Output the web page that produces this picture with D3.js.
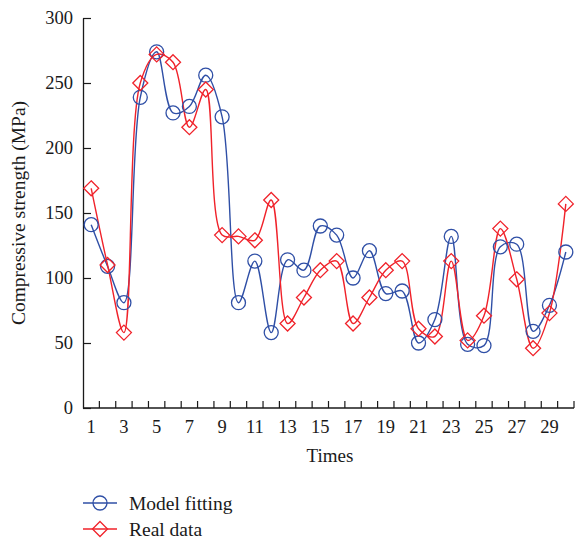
<!DOCTYPE html>
<html>
<head>
<meta charset="utf-8">
<script src="https://cdn.jsdelivr.net/npm/d3@7/dist/d3.min.js"></script>
<style>
  body { margin: 0; background: #fff; }
  svg { display: block; }
  text { font-family: "Liberation Serif", "DejaVu Serif", serif; fill: #1a1a1a; }
</style>
</head>
<body>
<div id="chart"></div>
<script>
// data
var times = d3.range(1, 31);
var tickLabels = [1, 3, 5, 7, 9, 11, 13, 15, 17, 19, 21, 23, 25, 27, 29];
var yTicks = [0, 50, 100, 150, 200, 250, 300];
var modelFitting = [141, 109, 81, 239, 274, 227, 232, 256, 224, 81,
                    113, 58, 114, 106, 140, 133, 100, 121, 88, 90,
                    50, 68, 132, 49, 48, 124, 126, 59, 79, 120];
var realData = [169, 110, 58, 250, 272, 266, 216, 245, 133, 132,
                129, 160, 65, 85, 106, 113, 65, 85, 106, 113,
                61, 55, 113, 52, 71, 138, 99, 46, 73, 157];

var W = 576, H = 542;
var plotLeft = 83, plotRight = 574, plotTop = 18, plotBottom = 408;
var blue = "#2f4fa6", red = "#f0222a";
var fs = 18.5;

var svg = d3.select("#chart").append("svg")
    .attr("width", W)
    .attr("height", H);

var x = d3.scaleBand().domain(times).range([plotLeft, plotRight]);
var y = d3.scaleLinear().domain([0, 300]).range([plotBottom, plotTop]);
var cx = function (i) { return x(times[i]) + x.bandwidth() / 2; };

// x axis: ticks at band edges, labels at band centres
svg.append("line")
    .attr("x1", plotLeft).attr("x2", plotRight)
    .attr("y1", plotBottom).attr("y2", plotBottom)
    .attr("stroke", "#1a1a1a").attr("stroke-width", 1.3);

svg.selectAll(".xtick")
    .data(times)
    .enter().append("line")
    .attr("class", "xtick")
    .attr("x1", function (d) { return x(d) + x.bandwidth(); })
    .attr("x2", function (d) { return x(d) + x.bandwidth(); })
    .attr("y1", plotBottom).attr("y2", plotBottom - 7)
    .attr("stroke", "#1a1a1a").attr("stroke-width", 1.2);

svg.selectAll(".xlab")
    .data(tickLabels)
    .enter().append("text")
    .attr("class", "xlab")
    .attr("x", function (d) { return x(d) + x.bandwidth() / 2; })
    .attr("y", 433)
    .attr("text-anchor", "middle")
    .attr("font-size", fs)
    .text(function (d) { return d; });

// y axis
var yAxis = svg.append("g")
    .attr("transform", "translate(" + plotLeft + ",0)")
    .call(d3.axisLeft(y).tickValues(yTicks).tickSizeInner(-8).tickSizeOuter(0).tickPadding(10));
yAxis.select(".domain").attr("stroke", "#1a1a1a").attr("stroke-width", 1.3);
yAxis.selectAll(".tick line").attr("stroke", "#1a1a1a").attr("stroke-width", 1.2);
yAxis.selectAll(".tick text")
    .attr("font-size", fs)
    .attr("font-family", "Liberation Serif, serif")
    .attr("fill", "#1a1a1a");

// axis titles
svg.append("text")
    .attr("transform", "translate(25," + 213 + ") rotate(-90)")
    .attr("text-anchor", "middle")
    .attr("font-size", 19.5)
    .text("Compressive strength (MPa)");

svg.append("text")
    .attr("x", 330).attr("y", 462)
    .attr("text-anchor", "middle")
    .attr("font-size", 19)
    .text("Times");

// lines
var line = d3.line()
    .x(function (d, i) { return cx(i); })
    .y(function (d) { return y(d); })
    .curve(d3.curveCatmullRom.alpha(0.5));

svg.append("path")
    .datum(modelFitting)
    .attr("d", line)
    .attr("fill", "none").attr("stroke", blue).attr("stroke-width", 1.4);

svg.append("path")
    .datum(realData)
    .attr("d", line)
    .attr("fill", "none").attr("stroke", red).attr("stroke-width", 1.4);

// markers
var diamond = "M0,-7.5L7.5,0L0,7.5L-7.5,0Z";

svg.append("g").selectAll("circle")
    .data(modelFitting)
    .enter().append("circle")
    .attr("cx", function (d, i) { return cx(i); })
    .attr("cy", function (d) { return y(d); })
    .attr("r", 7)
    .attr("fill", "none").attr("stroke", blue).attr("stroke-width", 1.3);

svg.append("g").selectAll("path")
    .data(realData)
    .enter().append("path")
    .attr("d", diamond)
    .attr("transform", function (d, i) { return "translate(" + cx(i) + "," + y(d) + ")"; })
    .attr("fill", "none").attr("stroke", red).attr("stroke-width", 1.3);

// legend
var legend = [
    { name: "Model fitting", color: blue, y: 503 },
    { name: "Real data", color: red, y: 529 }
];
legend.forEach(function (l) {
    svg.append("line")
        .attr("x1", 83).attr("x2", 117)
        .attr("y1", l.y).attr("y2", l.y)
        .attr("stroke", l.color).attr("stroke-width", 1.4);
    svg.append("text")
        .attr("x", 129).attr("y", l.y + 6.5)
        .attr("font-size", 19.5)
        .text(l.name);
});
svg.append("circle")
    .attr("cx", 100).attr("cy", legend[0].y).attr("r", 7)
    .attr("fill", "none").attr("stroke", blue).attr("stroke-width", 1.3);
svg.append("path")
    .attr("d", diamond)
    .attr("transform", "translate(100," + legend[1].y + ")")
    .attr("fill", "none").attr("stroke", red).attr("stroke-width", 1.3);
</script>
</body>
</html>
